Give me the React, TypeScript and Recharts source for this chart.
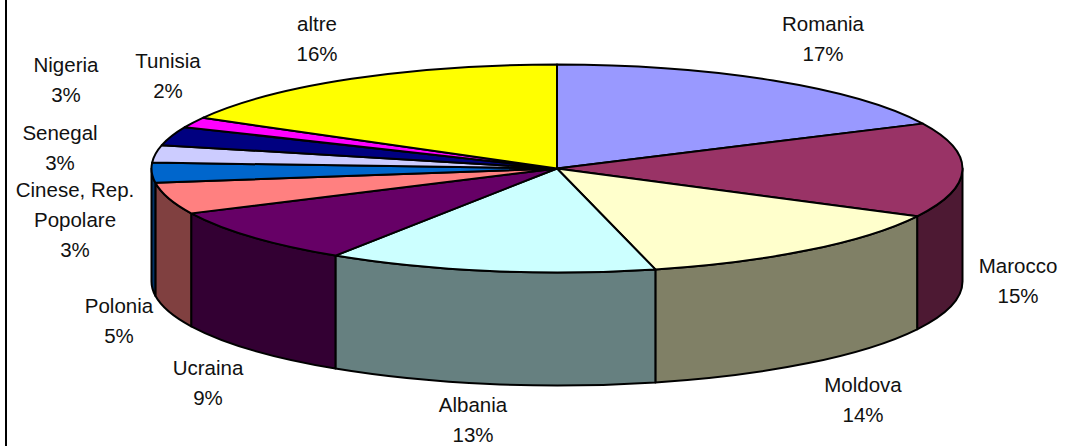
import { PieChart, Pie } from "recharts";

const categories = [
  "Romania",
  "Marocco",
  "Moldova",
  "Albania",
  "Ucraina",
  "Polonia",
  "Cinese, Rep.|Popolare",
  "Senegal",
  "Nigeria",
  "Tunisia",
  "altre",
];
const shares = [17.9, 14.7, 13.5, 13.1, 8.7, 4.9, 3.1, 2.7, 2.9, 1.6, 16.9];
const percentLabels = ["17%", "15%", "14%", "13%", "9%", "5%", "3%", "3%", "3%", "2%", "16%"];
const topColors = [
  "#9999FF",
  "#993366",
  "#FFFFCC",
  "#CCFFFF",
  "#660066",
  "#FF8080",
  "#0066CC",
  "#CCCCFF",
  "#000080",
  "#FF00FF",
  "#FFFF00",
];
const wallColors = [
  "#4D4D80",
  "#4D1933",
  "#808066",
  "#668080",
  "#330033",
  "#804040",
  "#003366",
  "#666680",
  "#000040",
  "#800080",
  "#808000",
];

// label centres (x, y of first line)
const labelAnchors = [
  [823, 24],
  [1018, 266],
  [863, 385],
  [473, 405],
  [208, 368],
  [119, 306],
  [75, 190],
  [60, 133],
  [66, 65],
  [168, 61],
  [317, 24],
];

const data = categories.map((name, i) => ({
  name,
  value: shares[i],
  fill: topColors[i],
  wall: wallColors[i],
}));

const CX = 557;
const CY = 168.5;
const RX = 405.5;
const RY = 104;
const DEPTH = 113;

const pt = (deg: number, dy = 0) => {
  const a = (deg * Math.PI) / 180;
  return `${CX + RX * Math.cos(a)} ${CY - RY * Math.sin(a) + dy}`;
};

function Slice3D(props: any) {
  const { startAngle, endAngle, fill } = props;
  const wall = props.wall ?? props.payload?.wall;
  const large = startAngle - endAngle > 180 ? 1 : 0;
  const top = `M${CX} ${CY} L${pt(startAngle)} A${RX} ${RY} 0 ${large} 1 ${pt(endAngle)} Z`;
  // only the front half of the rim shows a wall
  const candidates = [
    [startAngle, endAngle],
    [startAngle + 360, endAngle + 360],
  ];
  const walls = candidates
    .map(([s, e]) => [Math.min(s, 0), Math.max(e, -180)])
    .filter(([s, e]) => s > e);
  return (
    <g>
      {walls.map(([s, e], i) => (
        <path
          key={i}
          d={`M${pt(s)} A${RX} ${RY} 0 0 1 ${pt(e)} L${pt(e, DEPTH)} A${RX} ${RY} 0 0 0 ${pt(s, DEPTH)} Z`}
          fill={wall}
          stroke="#000"
          strokeWidth={2}
          strokeLinejoin="round"
        />
      ))}
      <path d={top} fill={fill} stroke="#000" strokeWidth={2} strokeLinejoin="round" />
    </g>
  );
}

function SliceLabel(props: any) {
  const { index } = props;
  const [x, y] = labelAnchors[index];
  const lines = [...categories[index].split("|"), percentLabels[index]];
  return (
    <text
      x={x}
      y={y}
      textAnchor="middle"
      fontFamily="'Liberation Sans', Arial, sans-serif"
      fontSize={20.5}
      fill="#111"
    >
      {lines.map((line, i) => (
        <tspan key={i} x={x} y={y + i * 30} dy="0.35em">
          {line}
        </tspan>
      ))}
    </text>
  );
}

export default function App() {
  return (
    <div style={{ position: "absolute", left: 0, top: 0, width: 1066, height: 446, background: "#fff" }}>
      <div style={{ position: "absolute", left: 5, top: 0, width: 2, height: 446, background: "#000" }} />
      <PieChart width={1066} height={446} margin={{ top: 0, right: 0, bottom: 0, left: 0 }}>
        <Pie
          data={data}
          dataKey="value"
          nameKey="name"
          cx={CX}
          cy={CY}
          outerRadius={RX}
          startAngle={90}
          endAngle={-270}
          shape={Slice3D}
          label={SliceLabel}
          labelLine={false}
          isAnimationActive={false}
        />
      </PieChart>
    </div>
  );
}
